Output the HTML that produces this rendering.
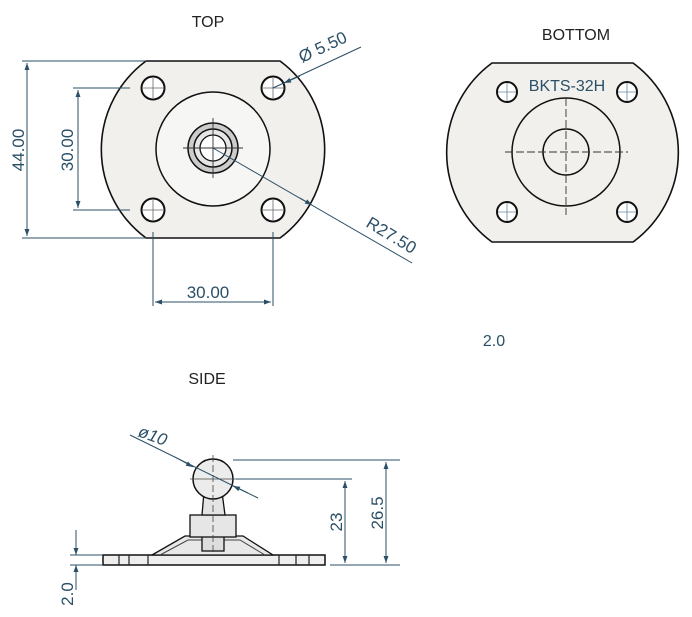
<!DOCTYPE html>
<html><head><meta charset="utf-8"><style>
html,body{margin:0;padding:0;background:#fff;}
svg{display:block;}
text{font-family:"Liberation Sans",sans-serif;}
</style></head><body>
<svg width="692" height="617" viewBox="0 0 692 617" xmlns="http://www.w3.org/2000/svg">
<defs>
<marker id="a" viewBox="0 0 10 10" refX="10" refY="5" markerWidth="9" markerHeight="7" orient="auto-start-reverse" markerUnits="userSpaceOnUse"><path d="M0,1.5 L10,5 L0,8.5 z" fill="#2a4f66"/></marker>
</defs>
<!-- TOP VIEW -->
<text x="208" y="27" font-size="16" text-anchor="middle" fill="#222">TOP</text>
<path d="M146,61 L280,61 A110,110 0 0 1 280,238 L146,238 A110,110 0 0 1 146,61 Z" fill="#f1f0ed" stroke="#111" stroke-width="1.6"/>
<g fill="#fff" stroke="#111" stroke-width="2">
<circle cx="153" cy="88" r="11.5"/><circle cx="273" cy="88" r="11.5"/>
<circle cx="153" cy="210" r="11.5"/><circle cx="273" cy="210" r="11.5"/>
</g>
<g stroke="#666" stroke-width="0.8">
<path d="M153,78V98M143,88H163M273,78V98M263,88H283M153,200V220M143,210H163M273,200V220M263,210H283"/>
</g>
<circle cx="213" cy="149" r="57" fill="#f6f6f4" stroke="#111" stroke-width="1.5"/>
<circle cx="213" cy="148" r="25" fill="#ccc" stroke="#111" stroke-width="1.5"/>
<circle cx="213" cy="148" r="19" fill="#e6e6e6" stroke="#111" stroke-width="1.5"/>
<circle cx="213" cy="148" r="13" fill="#fff" stroke="#111" stroke-width="1.3"/>
<path d="M183,148H243M213,118V178" stroke="#333" stroke-width="0.9"/>
<g stroke="#2a4f66" stroke-width="1" fill="none">
<path d="M22,61H146M22,238H146"/>
<path d="M27,63V236" marker-start="url(#a)" marker-end="url(#a)"/>
<path d="M73,88H130M73,210H130"/>
<path d="M78,90V208" marker-start="url(#a)" marker-end="url(#a)"/>
<path d="M153,232V306M273,232V306"/>
<path d="M155,302H271" marker-start="url(#a)" marker-end="url(#a)"/>
<path d="M361,47L273,88" />
<path d="M300,76L284,83" marker-end="url(#a)"/>
<path d="M213,148L412,263"/>
<path d="M300,198L312,205" marker-end="url(#a)"/>
</g>
<g fill="#2a4f66" font-size="17">
<text transform="translate(24,150) rotate(-90)" text-anchor="middle">44.00</text>
<text transform="translate(73,150) rotate(-90)" text-anchor="middle">30.00</text>
<text x="208" y="298" text-anchor="middle">30.00</text>
<text transform="translate(302,63) rotate(-25)">Ø 5.50</text>
<text transform="translate(365,226) rotate(31)">R27.50</text>
</g>
<!-- BOTTOM VIEW -->
<text x="576" y="40" font-size="16" text-anchor="middle" fill="#222">BOTTOM</text>
<path d="M492,63 L633,63 A111,111 0 0 1 633,242 L492,242 A111,111 0 0 1 492,63 Z" fill="#f1f0ed" stroke="#111" stroke-width="1.6"/>
<g fill="#fff" stroke="#111" stroke-width="2">
<circle cx="507" cy="92" r="10"/><circle cx="627" cy="92" r="10"/>
<circle cx="507" cy="212" r="10"/><circle cx="627" cy="212" r="10"/>
</g>
<g stroke="#6a8aa0" stroke-width="0.8">
<path d="M507,83V101M498,92H516M627,83V101M618,92H636M507,203V221M498,212H516M627,203V221M618,212H636"/>
</g>
<circle cx="566" cy="152" r="54" fill="none" stroke="#111" stroke-width="1.5"/>
<circle cx="566" cy="152" r="23" fill="none" stroke="#111" stroke-width="1.5"/>
<path d="M505,152H628M566,98V215" stroke="#333" stroke-width="0.9" stroke-dasharray="8,3"/>
<text x="567" y="91" font-size="16" text-anchor="middle" fill="#2a4f66">BKTS-32H</text>
<text x="494" y="346" font-size="16" text-anchor="middle" fill="#2a4f66">2.0</text>
<!-- SIDE VIEW -->
<text x="207" y="384" font-size="16" text-anchor="middle" fill="#222">SIDE</text>
<rect x="103" y="555" width="222" height="10" fill="#eee" stroke="#111" stroke-width="1.5"/>
<path d="M119,555V565M129,555V565M148,555V565M279,555V565M296,555V565M309,555V565" stroke="#222" stroke-width="1.2"/>
<path d="M152,555 L185,536 L243,536 L273,555 Z" fill="#e8e8e8" stroke="#111" stroke-width="1.3"/>
<path d="M160,555 L188,540 L240,540 L265,555" fill="none" stroke="#444" stroke-width="1"/>
<rect x="202" y="536" width="22" height="15" fill="#ddd" stroke="#111" stroke-width="1.3"/>
<rect x="190" y="515" width="46" height="22" fill="#e6e6e6" stroke="#111" stroke-width="1.3"/>
<path d="M202,515 L204,492 L222,492 L225,515 Z" fill="#e4e4e4" stroke="#111" stroke-width="1.3"/>
<circle cx="213" cy="479" r="20" fill="#ececec" stroke="#111" stroke-width="1.5"/>
<path d="M213,455V555" stroke="#444" stroke-width="0.8" stroke-dasharray="7,3"/>
<path d="M190,479H236" stroke="#444" stroke-width="0.8"/>
<g stroke="#2a4f66" stroke-width="1" fill="none">
<path d="M233,460H400M236,479H352M330,565H400"/>
<path d="M386,462V563" marker-start="url(#a)" marker-end="url(#a)"/>
<path d="M345,481V563" marker-start="url(#a)" marker-end="url(#a)"/>
<path d="M70,555H103M70,565H103"/>
<path d="M76,530V555" marker-end="url(#a)"/>
<path d="M76,590V565" marker-end="url(#a)"/>
<path d="M130,435L258,498"/>
<path d="M175,457L193,467" marker-end="url(#a)"/>
<path d="M248,493L233,486" marker-end="url(#a)"/>
</g>
<g fill="#2a4f66" font-size="17">
<text transform="translate(342,522) rotate(-90)" text-anchor="middle">23</text>
<text transform="translate(383,513) rotate(-90)" text-anchor="middle">26.5</text>
<text transform="translate(73,594) rotate(-90)" text-anchor="middle">2.0</text>
<text transform="translate(137,436) rotate(20)" font-style="italic">ø10</text>
</g>
</svg>
</body></html>
